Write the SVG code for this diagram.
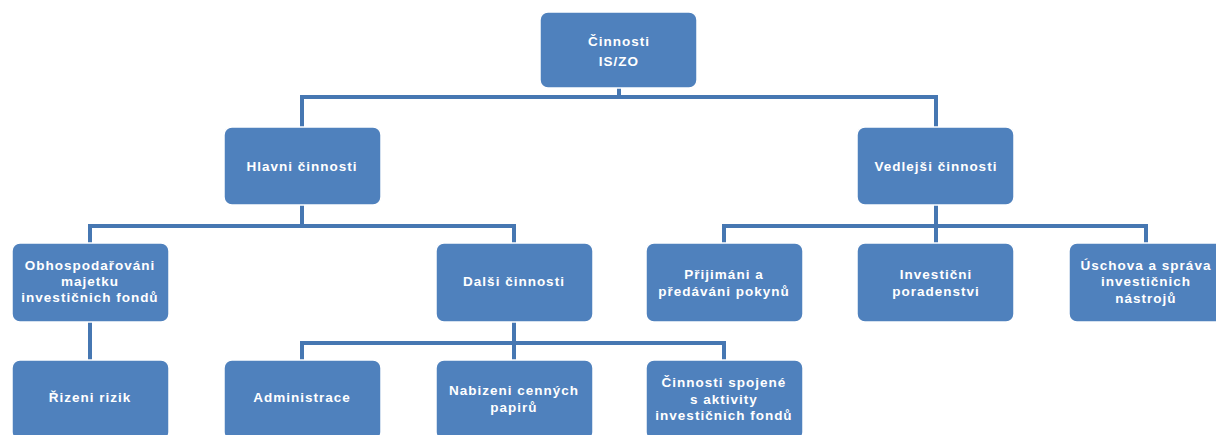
<svg xmlns="http://www.w3.org/2000/svg" width="1216" height="435" viewBox="0 0 1216 435">
<style>
.box{fill:#4F81BD;stroke:#ffffff;stroke-width:1.5}
.t{fill:#ffffff;font-family:"Liberation Sans",Arial,sans-serif;font-weight:bold;font-size:13.5px;text-anchor:middle;letter-spacing:1px}
.c{fill:none;stroke:#4677B2;stroke-width:4}
</style>
<rect width="1216" height="435" fill="#ffffff"/>
<g id="connectors">
<path class="c" d="M619 88V97M302 127V97H936V127"/>
<path class="c" d="M302 205V226M90 243V226H514V243"/>
<path class="c" d="M936 205V226M724 243V226H1146V243M936 226V243"/>
<path class="c" d="M90 322V360"/>
<path class="c" d="M514 322V343M302 360V343H724V360M514 343V360"/>
</g>
<g id="n_root"><rect class="box" x="540" y="12" width="157" height="76" rx="8"/><text class="t" x="619" y="46">Činnosti</text><text class="t" x="619" y="66">IS/ZO</text></g>
<g id="n_hlavni"><rect class="box" x="224" y="127" width="157" height="78" rx="8"/><text class="t" x="302" y="171">Hlavni činnosti</text></g>
<g id="n_vedlejsi"><rect class="box" x="857" y="127" width="157" height="78" rx="8"/><text class="t" x="936" y="171">Vedlejši činnosti</text></g>
<g id="n_obhosp"><rect class="box" x="12" y="243" width="157" height="79" rx="8"/><text class="t" x="90" y="270">Obhospodařováni</text><text class="t" x="90" y="286">majetku</text><text class="t" x="90" y="302">investičnich fondů</text></g>
<g id="n_dalsi"><rect class="box" x="436" y="243" width="157" height="79" rx="8"/><text class="t" x="514" y="286">Dalši činnosti</text></g>
<g id="n_prijimani"><rect class="box" x="646" y="243" width="157" height="79" rx="8"/><text class="t" x="724" y="279">Přijimáni a</text><text class="t" x="724" y="296">předáváni pokynů</text></g>
<g id="n_investicni"><rect class="box" x="857" y="243" width="157" height="79" rx="8"/><text class="t" x="936" y="279">Investični</text><text class="t" x="936" y="296">poradenstvi</text></g>
<g id="n_uschova"><rect class="box" x="1069" y="243" width="157" height="79" rx="8"/><text class="t" x="1146" y="270">Úschova a správa</text><text class="t" x="1146" y="286">investičnich</text><text class="t" x="1146" y="303">nástrojů</text></g>
<g id="n_rizeni"><rect class="box" x="12" y="360" width="157" height="80" rx="8"/><text class="t" x="90" y="402">Řizeni rizik</text></g>
<g id="n_admin"><rect class="box" x="224" y="360" width="157" height="80" rx="8"/><text class="t" x="302" y="402">Administrace</text></g>
<g id="n_nabizeni"><rect class="box" x="436" y="360" width="157" height="80" rx="8"/><text class="t" x="514" y="395">Nabizeni cenných</text><text class="t" x="514" y="412">papirů</text></g>
<g id="n_spojene"><rect class="box" x="646" y="360" width="157" height="80" rx="8"/><text class="t" x="724" y="387">Činnosti spojené</text><text class="t" x="724" y="404">s aktivity</text><text class="t" x="724" y="420">investičnich fondů</text></g>
</svg>
